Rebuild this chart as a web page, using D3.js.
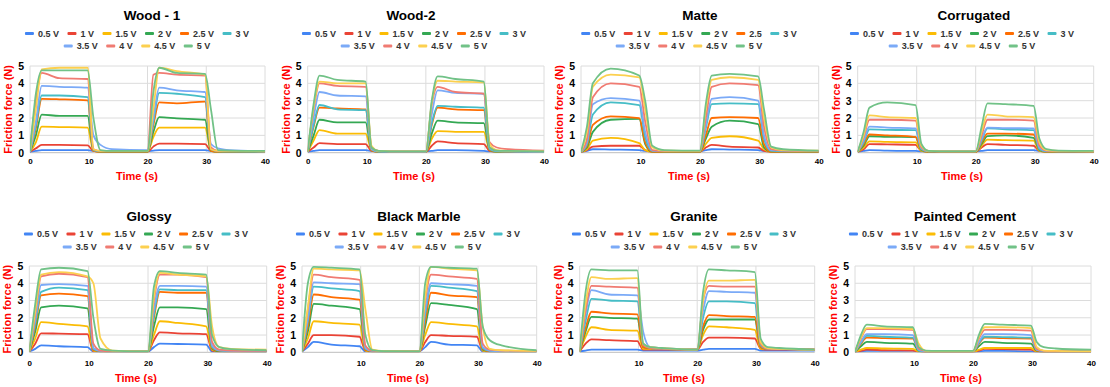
<!DOCTYPE html>
<html>
<head>
<meta charset="utf-8">
<script src="https://cdn.jsdelivr.net/npm/d3@7"></script>
<style>
  body { margin: 0; background: #fff; }
  svg { display: block; font-family: "Liberation Sans", Arial, sans-serif; }
</style>
</head>
<body>
<svg id="chart" width="1110" height="387"></svg>
<script>
//------------------------------------------------ DATA ----------------------------------------------------

// sample times (s) shared by every series
var times = [0, 1, 2, 5, 9.8, 10.8, 12, 14, 20, 21, 22, 25, 29.8, 30.8, 32, 34, 40];

var voltages = ["0.5 V", "1 V", "1.5 V", "2 V", "2.5 V", "3 V", "3.5 V", "4 V", "4.5 V", "5 V"];
var matteLabels = ["0.5 V", "1 V", "1.5 V", "2 V", "2.5", "3 V", "3.5 V", "4 V", "4.5 V", "5 V"];

var xTicks = [0, 10, 20, 30, 40];
var yTicks = [0, 1, 2, 3, 4, 5];

// friction force (N), one row per voltage
var wood1 = [
  [0.05,0.1,0.15,0.15,0.15,0.1,0.08,0.08,0.08,0.12,0.15,0.15,0.15,0.1,0.08,0.06,0.05],
  [0.05,0.25,0.45,0.45,0.42,0.1,0.05,0.05,0.05,0.35,0.52,0.52,0.5,0.1,0.05,0.05,0.05],
  [0.05,0.6,1.5,1.48,1.45,0.1,0.05,0.05,0.05,0.9,1.45,1.45,1.45,0.1,0.05,0.05,0.05],
  [0.05,1.0,2.2,2.12,2.12,0.15,0.05,0.05,0.05,1.2,2.05,1.98,1.9,0.1,0.05,0.05,0.05],
  [0.05,1.4,3.1,3.08,3.02,0.1,0.05,0.05,0.05,1.6,2.9,2.85,2.95,0.1,0.05,0.05,0.05],
  [0.05,1.6,3.3,3.3,3.2,0.15,0.08,0.08,0.08,1.8,3.45,3.4,3.2,0.2,0.08,0.06,0.05],
  [0.05,1.8,3.85,3.8,3.75,1.0,0.45,0.2,0.15,2.0,3.75,3.6,3.5,0.5,0.25,0.15,0.08],
  [0.1,3.0,4.6,4.3,4.25,0.2,0.1,0.1,0.1,4.5,4.6,4.5,4.45,0.3,0.1,0.1,0.08],
  [0.1,2.5,4.8,4.9,4.9,0.2,0.1,0.1,0.1,2.5,4.9,4.7,4.5,0.2,0.1,0.1,0.08],
  [0.1,3.4,4.75,4.75,4.75,2.0,0.15,0.1,0.1,3.5,4.9,4.6,4.55,2.5,0.15,0.12,0.1]
];

var wood2 = [
  [0.05,0.1,0.15,0.15,0.15,0.1,0.08,0.08,0.08,0.1,0.15,0.15,0.1,0.08,0.08,0.06,0.05],
  [0.05,0.3,0.55,0.5,0.5,0.1,0.05,0.05,0.05,0.4,0.65,0.55,0.5,0.1,0.05,0.05,0.05],
  [0.05,0.7,1.3,1.1,1.1,0.15,0.05,0.05,0.05,0.8,1.25,1.2,1.2,0.15,0.05,0.05,0.05],
  [0.05,1.0,1.9,1.75,1.75,0.15,0.05,0.05,0.05,1.1,1.85,1.75,1.7,0.15,0.05,0.05,0.05],
  [0.05,1.5,2.6,2.55,2.5,0.15,0.05,0.05,0.05,1.6,2.6,2.5,2.45,0.15,0.08,0.05,0.05],
  [0.05,1.6,2.75,2.5,2.45,0.2,0.05,0.05,0.05,1.7,2.7,2.65,2.6,0.2,0.08,0.06,0.05],
  [0.05,2.0,3.5,3.3,3.25,0.2,0.08,0.06,0.05,2.2,3.6,3.45,3.4,0.25,0.1,0.08,0.05],
  [0.05,2.5,4.0,3.85,3.8,0.3,0.1,0.08,0.08,2.8,3.8,3.5,3.4,0.6,0.3,0.2,0.12],
  [0.05,2.6,4.1,4.0,4.0,0.4,0.1,0.08,0.08,2.9,4.15,4.1,4.05,0.5,0.15,0.1,0.08],
  [0.05,2.8,4.45,4.2,4.1,0.3,0.1,0.08,0.08,3.0,4.4,4.25,4.1,0.3,0.12,0.1,0.08]
];

var matte = [
  [0.05,0.1,0.2,0.18,0.15,0.1,0.08,0.08,0.08,0.15,0.2,0.18,0.15,0.1,0.08,0.08,0.08],
  [0.05,0.15,0.35,0.4,0.4,0.15,0.05,0.05,0.05,0.3,0.45,0.35,0.3,0.1,0.05,0.05,0.05],
  [0.05,0.2,0.7,0.85,0.55,0.15,0.05,0.05,0.05,0.5,0.85,0.95,0.7,0.2,0.05,0.05,0.05],
  [0.05,0.3,1.2,1.9,1.95,0.5,0.05,0.05,0.05,0.8,1.5,1.85,1.65,0.3,0.05,0.05,0.05],
  [0.05,0.4,1.6,2.1,2.0,0.6,0.05,0.05,0.05,1.0,2.0,2.05,2.0,0.5,0.05,0.05,0.05],
  [0.05,0.5,2.2,2.9,2.75,0.9,0.1,0.08,0.08,1.4,2.8,2.85,2.8,0.8,0.1,0.08,0.08],
  [0.05,0.6,2.8,3.15,3.0,1.2,0.12,0.1,0.1,1.6,3.1,3.2,3.0,1.0,0.15,0.12,0.1],
  [0.05,0.8,3.2,4.0,3.8,1.8,0.15,0.1,0.1,2.0,3.8,4.0,3.9,1.5,0.2,0.12,0.1],
  [0.05,1.2,3.8,4.5,4.35,2.5,0.3,0.12,0.1,2.5,4.2,4.35,4.2,2.0,0.3,0.15,0.12],
  [0.05,1.5,4.0,4.85,4.45,3.0,0.4,0.15,0.12,2.8,4.45,4.55,4.4,2.5,0.35,0.2,0.12]
];

var corrugated = [
  [0.05,0.1,0.15,0.12,0.1,0.08,0.08,0.08,0.08,0.1,0.15,0.15,0.15,0.1,0.08,0.08,0.08],
  [0.05,0.2,0.5,0.48,0.45,0.1,0.05,0.05,0.05,0.3,0.5,0.45,0.4,0.1,0.05,0.05,0.05],
  [0.05,0.3,0.65,0.62,0.6,0.1,0.05,0.05,0.05,0.4,0.75,0.72,0.7,0.1,0.05,0.05,0.05],
  [0.05,0.4,0.95,0.92,0.9,0.15,0.05,0.05,0.05,0.5,0.95,1.0,0.85,0.15,0.05,0.05,0.05],
  [0.05,0.5,1.05,1.0,0.9,0.2,0.05,0.05,0.05,0.6,1.1,1.1,1.05,0.2,0.05,0.05,0.05],
  [0.05,0.6,1.35,1.32,1.3,0.2,0.08,0.08,0.08,0.7,1.4,1.35,1.3,0.2,0.08,0.08,0.08],
  [0.05,0.7,1.5,1.45,1.4,0.25,0.08,0.08,0.08,0.8,1.45,1.42,1.4,0.3,0.1,0.08,0.08],
  [0.05,0.9,1.9,1.9,1.85,0.3,0.1,0.08,0.08,1.0,1.9,1.9,1.85,0.4,0.12,0.1,0.08],
  [0.05,1.0,2.15,2.05,2.0,0.4,0.1,0.08,0.08,1.2,2.2,2.1,2.05,0.6,0.15,0.1,0.08],
  [0.05,1.2,2.6,2.9,2.75,0.5,0.1,0.08,0.08,1.5,2.85,2.8,2.7,0.8,0.2,0.12,0.1]
];

var glossy = [
  [0.05,0.2,0.4,0.35,0.3,0.05,0.05,0.05,0.05,0.3,0.5,0.48,0.45,0.05,0.05,0.05,0.05],
  [0.05,0.5,1.1,1.08,1.05,0.05,0.05,0.05,0.05,0.7,1.15,1.1,1.05,0.1,0.05,0.05,0.05],
  [0.05,0.8,1.75,1.65,1.5,0.1,0.05,0.05,0.05,1.0,1.8,1.7,1.5,0.15,0.05,0.05,0.05],
  [0.05,1.2,2.6,2.7,2.55,0.15,0.05,0.05,0.05,1.5,2.6,2.6,2.5,0.2,0.05,0.05,0.05],
  [0.05,1.5,3.3,3.4,3.25,0.15,0.05,0.05,0.05,2.0,3.5,3.45,3.45,0.25,0.08,0.05,0.05],
  [0.05,1.7,3.5,3.75,3.6,0.2,0.08,0.05,0.05,2.2,3.65,3.6,3.6,0.3,0.1,0.08,0.05],
  [0.05,1.9,3.9,3.95,3.85,0.25,0.08,0.05,0.05,2.5,3.85,3.85,3.8,0.4,0.12,0.08,0.05],
  [0.05,2.2,4.4,4.55,4.35,0.5,0.1,0.05,0.05,3.0,4.5,4.5,4.35,0.6,0.15,0.1,0.08],
  [0.05,2.4,4.5,4.65,4.4,4.0,0.8,0.1,0.05,3.2,4.6,4.5,4.4,1.5,0.3,0.2,0.15],
  [0.05,2.8,4.8,4.9,4.7,2.0,0.2,0.1,0.05,3.8,4.7,4.6,4.5,1.0,0.3,0.18,0.12]
];

var blackMarble = [
  [0.05,0.3,0.6,0.45,0.35,0.05,0.05,0.05,0.05,0.3,0.6,0.45,0.4,0.05,0.05,0.05,0.05],
  [0.05,0.5,1.0,1.0,0.9,0.1,0.05,0.05,0.05,0.6,1.0,0.95,0.9,0.1,0.05,0.05,0.05],
  [0.05,0.8,1.8,1.7,1.6,0.1,0.05,0.05,0.05,1.0,1.75,1.65,1.5,0.1,0.05,0.05,0.05],
  [0.05,1.2,2.8,2.7,2.5,0.15,0.05,0.05,0.05,1.5,2.85,2.75,2.5,0.15,0.05,0.05,0.05],
  [0.05,1.5,3.35,3.2,3.05,0.15,0.05,0.05,0.05,1.8,3.45,3.3,3.2,0.2,0.05,0.05,0.05],
  [0.05,1.8,3.8,3.7,3.55,0.2,0.08,0.05,0.05,2.2,3.85,3.75,3.55,0.25,0.08,0.05,0.05],
  [0.05,2.0,4.05,4.0,3.95,0.25,0.08,0.05,0.05,2.5,4.0,3.95,3.85,0.3,0.1,0.06,0.05],
  [0.05,2.5,4.5,4.35,4.2,0.4,0.1,0.06,0.05,3.0,4.5,4.4,4.25,0.5,0.15,0.1,0.08],
  [0.05,2.6,4.85,4.8,4.75,2.5,0.15,0.06,0.05,3.2,4.95,4.85,4.75,1.5,0.2,0.12,0.08],
  [0.05,4.0,4.95,4.9,4.8,1.0,0.12,0.06,0.05,4.0,4.95,4.9,4.85,1.5,0.7,0.4,0.12]
];

var granite = [
  [0.05,0.1,0.15,0.15,0.15,0.1,0.1,0.1,0.1,0.15,0.2,0.2,0.2,0.1,0.1,0.1,0.1],
  [0.05,0.5,0.75,0.7,0.65,0.15,0.15,0.15,0.15,0.6,0.85,0.85,0.8,0.2,0.15,0.15,0.15],
  [0.05,0.9,1.45,1.3,1.25,0.2,0.2,0.2,0.15,1.0,1.5,1.45,1.3,0.2,0.2,0.2,0.15],
  [0.05,1.2,2.05,2.0,1.95,0.3,0.25,0.2,0.15,1.3,1.9,1.9,1.9,0.3,0.2,0.2,0.15],
  [0.05,1.4,2.35,2.25,2.2,0.3,0.25,0.2,0.15,1.5,2.15,2.1,2.05,0.3,0.2,0.2,0.15],
  [0.05,1.8,3.1,3.0,2.95,0.5,0.25,0.2,0.15,2.0,2.95,2.95,2.85,0.4,0.2,0.2,0.15],
  [0.05,2.2,3.6,3.35,3.3,1.2,0.3,0.25,0.15,2.4,3.55,3.5,3.45,0.6,0.25,0.2,0.15],
  [0.05,2.4,3.85,3.8,3.75,0.4,0.25,0.2,0.15,3.0,3.85,3.8,3.8,0.5,0.2,0.2,0.15],
  [0.05,2.8,4.35,4.25,4.3,0.5,0.3,0.25,0.15,3.0,4.15,4.15,4.2,0.6,0.25,0.2,0.15],
  [0.05,3.5,4.8,4.75,4.75,0.5,0.3,0.25,0.15,3.5,4.8,4.75,4.65,0.8,0.3,0.25,0.15]
];

var paintedCement = [
  [0.02,0.05,0.08,0.08,0.1,0.05,0.03,0.03,0.03,0.05,0.08,0.08,0.05,0.03,0.03,0.03,0.03],
  [0.02,0.08,0.15,0.12,0.1,0.05,0.03,0.03,0.03,0.1,0.2,0.18,0.15,0.05,0.03,0.03,0.03],
  [0.02,0.15,0.25,0.22,0.2,0.05,0.03,0.03,0.03,0.15,0.25,0.25,0.25,0.05,0.03,0.03,0.03],
  [0.02,0.35,0.6,0.55,0.5,0.08,0.05,0.05,0.05,0.35,0.6,0.55,0.5,0.08,0.05,0.05,0.05],
  [0.02,0.5,0.85,0.82,0.8,0.1,0.05,0.05,0.05,0.5,0.85,0.82,0.8,0.1,0.05,0.05,0.05],
  [0.02,0.55,0.95,0.9,0.85,0.1,0.05,0.05,0.05,0.55,0.9,0.88,0.85,0.15,0.05,0.05,0.05],
  [0.02,0.6,1.05,1.05,1.0,0.15,0.05,0.05,0.05,0.6,1.05,1.05,1.0,0.15,0.08,0.05,0.05],
  [0.02,0.8,1.35,1.35,1.3,0.2,0.08,0.05,0.05,0.8,1.3,1.3,1.25,0.2,0.08,0.05,0.05],
  [0.02,0.85,1.4,1.4,1.35,0.5,0.08,0.05,0.05,0.9,1.45,1.45,1.4,0.3,0.1,0.08,0.05],
  [0.02,1.0,1.6,1.5,1.45,0.3,0.1,0.08,0.08,1.0,1.65,1.6,1.55,0.6,0.3,0.22,0.15]
];

//------------------------------------------------ LAYOUT ----------------------------------------------------

var colors = ["#4285f4", "#ea4335", "#fbbc04", "#34a853", "#ff6d01", "#46bdc6",
              "#7baaf7", "#f07b72", "#fcd04f", "#71c287"];

var panels = [
  { title: "Wood - 1",       data: wood1,         labels: voltages,    zero: true,  left: 30,    right: 265,    row: 0, titleX: 152, midX: 137 },
  { title: "Wood-2",         data: wood2,         labels: voltages,    zero: true,  left: 307.7, right: 544,    row: 0, titleX: 411, midX: 414 },
  { title: "Matte",          data: matte,         labels: matteLabels, zero: false, left: 581,   right: 818.7,  row: 0, titleX: 700, midX: 689 },
  { title: "Corrugated",     data: corrugated,    labels: voltages,    zero: false, left: 857.7, right: 1093.7, row: 0, titleX: 974, midX: 962 },
  { title: "Glossy",         data: glossy,        labels: voltages,    zero: true,  left: 29.3,  right: 266.7,  row: 1, titleX: 149, midX: 136 },
  { title: "Black Marble",   data: blackMarble,   labels: voltages,    zero: false, left: 302,   right: 536.7,  row: 1, titleX: 419, midX: 408 },
  { title: "Granite",        data: granite,       labels: voltages,    zero: false, left: 579.7, right: 814.7,  row: 1, titleX: 694, midX: 684 },
  { title: "Painted Cement", data: paintedCement, labels: voltages,    zero: false, left: 855,   right: 1091,   row: 1, titleX: 965, midX: 961 }
];

var rows = [
  { titleY: 15,  leg1: 33.5,  leg2: 46,  top: 66,  bottom: 152.7, tickY: 162, axisY: 176 },
  { titleY: 216, leg1: 234,   leg2: 247, top: 266, bottom: 352.3, tickY: 364, axisY: 378 }
];

//------------------------------------------------ DRAW ----------------------------------------------------

var svg = d3.select("#chart");

panels.forEach(function (p, i) {
  var r = rows[p.row];
  var g = svg.append("g");

  var x = d3.scaleLinear().domain([0, 40]).range([p.left, p.right]);
  var y = d3.scaleLinear().domain([0, 5]).range([r.bottom, r.top]);

  // title
  g.append("text")
    .attr("x", p.titleX).attr("y", r.titleY)
    .attr("text-anchor", "middle").attr("dominant-baseline", "central")
    .style("font-size", "13.5px").style("font-weight", "bold").style("fill", "#000")
    .text(p.title);

  // legend, two rows, centred
  var legendRows = [[0, 6, r.leg1], [6, 10, r.leg2]];
  legendRows.forEach(function (lr) {
    var lg = g.append("g");
    var cx = 0;
    for (var k = lr[0]; k < lr[1]; k++) {
      lg.append("rect")
        .attr("x", cx).attr("y", lr[2] - 1.5)
        .attr("width", 9).attr("height", 3).attr("rx", 1)
        .style("fill", colors[k]);
      var t = lg.append("text")
        .attr("x", cx + 13).attr("y", lr[2])
        .attr("dominant-baseline", "central")
        .style("font-size", "9px").style("font-weight", "bold").style("fill", "#333")
        .text(p.labels[k]);
      cx += 13 + t.node().getComputedTextLength() + 8.5;
    }
    var w = cx - 8.5;
    lg.attr("transform", "translate(" + (p.midX - w / 2) + ",0)");
  });

  // grid
  g.selectAll(".hgrid").data(yTicks).enter().append("line")
    .attr("x1", p.left).attr("x2", p.right)
    .attr("y1", function (d) { return y(d); }).attr("y2", function (d) { return y(d); })
    .style("stroke", function (d) { return d === 0 ? "#bdbdbd" : "#dcdcdc"; })
    .style("stroke-width", 1);
  g.selectAll(".vgrid").data(xTicks).enter().append("line")
    .attr("y1", r.top).attr("y2", r.bottom)
    .attr("x1", function (d) { return x(d); }).attr("x2", function (d) { return x(d); })
    .style("stroke", "#dcdcdc").style("stroke-width", 1);

  // axes
  var yAxis = g.append("g")
    .attr("transform", "translate(" + p.left + ",0)")
    .call(d3.axisLeft(y).tickValues(yTicks).tickFormat(d3.format("d")).tickSize(0).tickPadding(6));
  var xAxis = g.append("g")
    .attr("transform", "translate(0," + r.bottom + ")")
    .call(d3.axisBottom(x).tickValues(p.zero ? xTicks : xTicks.slice(1)).tickFormat(d3.format("d")).tickSize(0));
  [yAxis, xAxis].forEach(function (a) {
    a.select(".domain").remove();
    a.selectAll("text")
      .style("font-family", "\"Liberation Sans\", Arial, sans-serif")
      .style("font-weight", "bold").style("fill", "#000");
  });
  yAxis.selectAll("text").style("font-size", "10.5px");
  xAxis.selectAll("text").style("font-size", "8px")
    .attr("y", r.tickY - r.bottom).attr("dy", null)
    .attr("dominant-baseline", "central");

  // axis titles
  g.append("text")
    .attr("transform", "translate(" + (p.left - 22) + "," + ((r.top + r.bottom) / 2) + ") rotate(-90)")
    .attr("text-anchor", "middle").attr("dominant-baseline", "central")
    .style("font-size", "11px").style("font-weight", "bold").style("fill", "#ff0000")
    .text("Friction force (N)");
  g.append("text")
    .attr("x", p.midX).attr("y", r.axisY)
    .attr("text-anchor", "middle").attr("dominant-baseline", "central")
    .style("font-size", "11px").style("font-weight", "bold").style("fill", "#ff0000")
    .text("Time (s)");

  // series
  var clipId = "clip" + i;
  g.append("clipPath").attr("id", clipId).append("rect")
    .attr("x", p.left).attr("y", r.top - 1)
    .attr("width", p.right - p.left).attr("height", r.bottom - r.top + 1);

  var line = d3.line()
    .x(function (d, j) { return x(times[j]); })
    .y(function (d) { return y(d); })
    .curve(d3.curveMonotoneX);

  g.append("g").attr("clip-path", "url(#" + clipId + ")")
    .selectAll("path").data(p.data).enter().append("path")
    .attr("d", line)
    .style("fill", "none")
    .style("stroke", function (d, k) { return colors[k]; })
    .style("stroke-width", 1.8)
    .style("stroke-linejoin", "round");
});
</script>
</body>
</html>
